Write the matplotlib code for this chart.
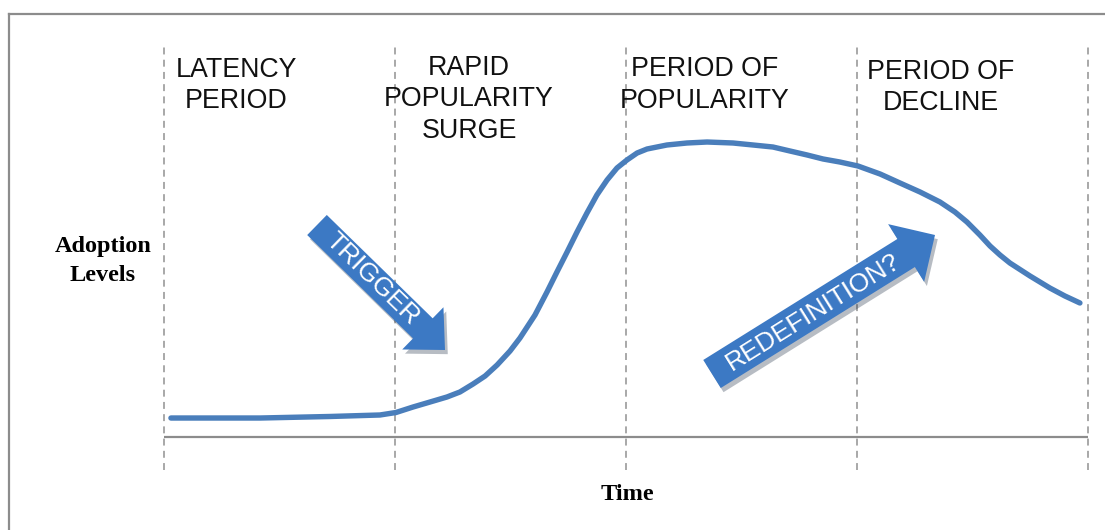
import matplotlib
matplotlib.use("Agg")
import matplotlib.pyplot as plt
import matplotlib.patheffects as pe
from matplotlib.lines import Line2D

plt.rcParams['lines.scale_dashes'] = False

# ---------------- data ----------------
time = [0.030, 0.416, 0.719, 0.935, 1.004, 1.078, 1.152, 1.225, 1.281, 1.338,
        1.390, 1.442, 1.498, 1.541, 1.606, 1.658, 1.701, 1.745, 1.788, 1.831,
        1.874, 1.918, 1.961, 2.004, 2.048, 2.091, 2.177, 2.264, 2.351, 2.463,
        2.550, 2.636, 2.710, 2.784, 2.853, 2.926, 3.004, 3.100, 3.186, 3.273,
        3.359, 3.424, 3.476, 3.532, 3.576, 3.619, 3.662, 3.749, 3.835, 3.900,
        3.965]
adoption = [4.83, 4.83, 5.22, 5.60, 6.23, 7.63, 8.91, 10.18, 11.45, 13.49,
            15.52, 18.32, 21.88, 25.19, 31.04, 36.90, 41.98, 47.07, 52.16, 57.00,
            61.58, 65.39, 68.45, 70.48, 72.26, 73.28, 74.30, 74.81, 75.06, 74.81,
            74.30, 73.79, 72.77, 71.76, 70.74, 69.97, 68.96, 66.92, 64.63, 62.34,
            59.80, 57.25, 54.71, 51.40, 48.60, 46.31, 44.27, 40.97, 37.91, 35.88,
            34.10]
phase_bounds = [0, 1, 2, 3, 4]
phase_labels = [["LATENCY", "PERIOD"],
                ["RAPID", "POPULARITY", "SURGE"],
                ["PERIOD OF", "POPULARITY"],
                ["PERIOD OF", "DECLINE"]]
y_label = "Adoption\nLevels"
x_label = "Time"
arrow_labels = ["TRIGGER", "REDEFINITION?"]

# ---------------- figure ----------------
W, H = 1105, 530
fig = plt.figure(figsize=(W / 100, H / 100), dpi=100)
fig.patch.set_facecolor("white")

def fx(px):
    return px / W

def fy(py):
    return 1 - py / H

ax = fig.add_axes([fx(164), fy(470), fx(1088) - fx(164), fy(44) - fy(470)])
ax.set_xlim(0, 4)
ax.set_ylim(-(470 - 437) / 3.93, (437 - 44) / 3.93)
ax.axis("off")

grey = "#9a9a9a"
for b in phase_bounds:
    ax.axvline(b, color=grey, lw=1.2, dashes=(5, 3.8), clip_on=False)
ax.axhline(0, color="#8c8c8c", lw=1.6)

ax.plot(time, adoption, color="#4a7ebb", lw=3.9, solid_capstyle="round",
        solid_joinstyle="round", zorder=3)

# phase labels
label_x = [236, 469, 705, 941]
label_y0 = [70, 68, 69, 72]
pitch = 31.5
for lines, x0, y0 in zip(phase_labels, label_x, label_y0):
    for i, t in enumerate(lines):
        fig.text(fx(x0), fy(y0 + i * pitch), t, ha="center", va="center",
                 fontsize=19.3, family="Liberation Sans", color="#111111")

fig.text(fx(103), fy(261), y_label, ha="center", va="center", fontsize=17.5,
         family="Liberation Serif", weight="bold", linespacing=1.5)
fig.text(fx(627), fy(494), x_label, ha="center", va="center", fontsize=17.5,
         family="Liberation Serif", weight="bold")

# border (top and left)
border = "#8c8c8c"
fig.add_artist(Line2D([fx(9), fx(9)], [fy(14), 0], transform=fig.transFigure,
                      color=border, lw=1.6))
fig.add_artist(Line2D([fx(9), 1], [fy(14), fy(14)], transform=fig.transFigure,
                      color=border, lw=1.6))

# arrows
arrow_color = "#3c79c4"
def big_arrow(tail, tip, tw, hw, hl):
    ax.annotate("", xy=(fx(tip[0]), fy(tip[1])), xycoords="figure fraction",
                xytext=(fx(tail[0]), fy(tail[1])), textcoords="figure fraction",
                arrowprops=dict(arrowstyle=f"simple,head_length={hl},head_width={hw},tail_width={tw}",
                                fc=arrow_color, ec="none", shrinkA=0, shrinkB=0,
                                mutation_scale=1,
                                path_effects=[pe.SimplePatchShadow(offset=(2, -3), alpha=0.3),
                                              pe.Normal()]),
                annotation_clip=False, zorder=4)

big_arrow((317, 225), (445, 350), 20.2, 42.5, 22.3)
big_arrow((712, 374), (935, 235), 23.8, 49.0, 24.5)

fig.text(fx(372), fy(279), arrow_labels[0], rotation=-44.3, rotation_mode="anchor",
         ha="center", va="center", color="white", fontsize=19,
         family="Liberation Sans", zorder=5)
fig.text(fx(813), fy(312), arrow_labels[1], rotation=31.9, rotation_mode="anchor",
         ha="center", va="center", color="white", fontsize=19,
         family="Liberation Sans", zorder=5)

fig.savefig("out.png", dpi=100)
